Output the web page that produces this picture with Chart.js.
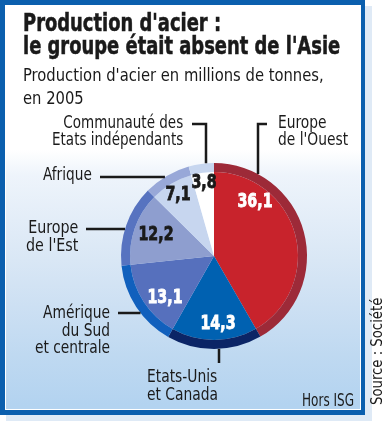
<!DOCTYPE html>
<html>
<head>
<meta charset="utf-8">
<script src="https://cdn.jsdelivr.net/npm/chart.js@4/dist/chart.umd.min.js"></script>
<style>
  html, body { margin: 0; padding: 0; background: #fff; }
  #wrap { position: relative; width: 385px; height: 421px; overflow: hidden;
          font-family: "Liberation Sans Narrow", "DejaVu Sans Condensed", "Roboto Condensed", sans-serif;
          font-stretch: condensed; color: #1a1a1a; }
  #shadow { position: absolute; left: 6px; top: 6px; width: 366px; height: 415px; background: #dfeaf6; }
  #frame { position: absolute; left: 0; top: 0; width: 356px; height: 405px;
           border: 5px solid #0b5fae; border-right-width: 4px;
           box-shadow: inset 0 0 0 1px #fff;
           background: linear-gradient(to bottom, #fff 0px, #fff 145px, #eef4fb 170px, #e3edf8 215px,
                       #d9e7f5 255px, #cde0f3 300px, #bfd9f1 350px, #b3d3f0 400px); }
  canvas { position: absolute; left: 0; top: 0; }
  .t { position: absolute; white-space: nowrap; }
  .title { left: 23px; top: 12px; font-size: 24px; line-height: 23px; font-weight: bold;
           -webkit-text-stroke: 0.5px #1a1a1a; }
  .sub { left: 23px; top: 63px; font-size: 18px; line-height: 23px; }
  .lab { font-size: 18px; line-height: 17px; }
  .r { text-align: right; }
  #source { position: absolute; left: 371px; top: 405px; transform-origin: 0 0;
            font-size: 15px; line-height: 13px; white-space: nowrap; }
</style>
</head>
<body>
<div id="wrap">
  <div id="shadow"></div>
  <div id="frame"></div>
  <canvas id="chart" width="385" height="421"></canvas>
  <div class="t title" data-w="317">Production d'acier :<br>le groupe était absent de l'Asie</div>
  <div class="t sub" data-w="301">Production d'acier en millions de tonnes,<br>en 2005</div>
  <div class="t lab r" data-w="131" style="right:202px; top:113px;">Communauté des<br>Etats indépendants</div>
  <div class="t lab" data-w="70" style="left:278px; top:113px;">Europe<br>de l'Ouest</div>
  <div class="t lab r" data-w="49" style="right:293px; top:165px;">Afrique</div>
  <div class="t lab r" data-w="52" style="right:307px; top:218px; line-height:18px;">Europe<br>de l'Est</div>
  <div class="t lab r" data-w="75" style="right:275px; top:303px; line-height:17.5px;">Amérique<br>du Sud<br>et centrale</div>
  <div class="t lab" data-w="71" style="left:147px; top:367px; line-height:18px;">Etats-Unis<br>et Canada</div>
  <div class="t lab r" data-w="52" style="right:31px; top:392px; font-size:17px;">Hors ISG</div>
  <div id="source" data-w="107">Source : Société</div>
</div>
<script>
// Production d'acier 2005, millions de tonnes
const categories = ["Europe de l'Ouest", "Etats-Unis et Canada", "Amérique du Sud et centrale",
                    "Europe de l'Est", "Afrique", "Communauté des Etats indépendants"];
const production = [36.1, 14.3, 13.1, 12.2, 7.1, 3.8];

const innerColors = ['#c8232c', '#0061b1', '#5670bd', '#8e9ecf', '#c7d6ef', '#ffffff'];
const ringColors  = ['#9d2a38', '#0b2566', '#1160bd', '#5773c0', '#98a8d8', '#c7d6ef'];
const valueColors = ['#fff', '#fff', '#fff', '#1a1a1a', '#1a1a1a', '#1a1a1a'];
// value label offsets from the pie centre
const valueOffsets = [[41, -54], [4, 68], [-49, 42], [-58, -21], [-36, -61], [-10, -73]];
// leader lines: start points, then run to the pie edge ('h' = horizontal, 'v' = vertical)
const leaders = [
  { pts: [[192, 124], [206, 124]], dir: 'v', side: -1 },
  { pts: [[267, 124], [258, 124]], dir: 'v', side: -1 },
  { pts: [[100, 177]], dir: 'h', side: -1 },
  { pts: [[86, 229]], dir: 'h', side: -1 },
  { pts: [[118, 313]], dir: 'h', side: -1 },
  { pts: [[219, 363]], dir: 'v', side: 1 }
];

const fmt = v => v.toFixed(1).replace('.', ',');

// squeeze the html text to the reference widths
document.querySelectorAll('[data-w]').forEach(el => {
  const s = +el.dataset.w / el.offsetWidth;
  if (el.id === 'source') {
    el.style.transform = `rotate(-90deg) scaleX(${s})`;
  } else {
    el.style.transformOrigin = el.classList.contains('r') ? 'right top' : 'left top';
    el.style.transform = `scaleX(${s})`;
  }
});

const annotate = {
  id: 'annotate',
  afterDatasetsDraw(chart) {
    const ctx = chart.ctx;
    const outer = chart.getDatasetMeta(0).data[0];
    const cx = outer.x, cy = outer.y, r = outer.outerRadius;
    ctx.save();
    // leader lines
    ctx.strokeStyle = '#1a1a1a';
    ctx.lineWidth = 2.5;
    leaders.forEach(l => {
      const last = l.pts[l.pts.length - 1];
      let end;
      if (l.dir === 'h') end = [cx + l.side * Math.sqrt(r * r - (last[1] - cy) ** 2), last[1]];
      else end = [last[0], cy + l.side * Math.sqrt(r * r - (last[0] - cx) ** 2)];
      ctx.beginPath();
      ctx.moveTo(l.pts[0][0], l.pts[0][1]);
      l.pts.slice(1).forEach(p => ctx.lineTo(p[0], p[1]));
      ctx.lineTo(end[0], end[1]);
      ctx.stroke();
    });
    // values
    ctx.font = 'bold 19px "Liberation Sans Narrow", "DejaVu Sans Condensed", sans-serif';
    ctx.textAlign = 'center';
    ctx.textBaseline = 'middle';
    ctx.lineWidth = 0.8;
    const sx = 35 / ctx.measureText('36,1').width;
    chart.getDatasetMeta(1).data.forEach((arc, i) => {
      ctx.save();
      ctx.translate(arc.x + valueOffsets[i][0], arc.y + valueOffsets[i][1]);
      ctx.scale(sx, 1);
      ctx.fillStyle = valueColors[i];
      ctx.strokeStyle = valueColors[i];
      ctx.fillText(fmt(production[i]), 0, 0);
      ctx.strokeText(fmt(production[i]), 0, 0);
      ctx.restore();
    });
    ctx.restore();
  }
};

new Chart(document.getElementById('chart'), {
  type: 'pie',
  data: {
    labels: categories,
    datasets: [
      { data: production, backgroundColor: ringColors, borderWidth: 0, weight: 1 },
      { data: production, backgroundColor: innerColors, borderWidth: 0, weight: 9.3 }
    ]
  },
  options: {
    responsive: false,
    animation: false,
    layout: { padding: { left: 121, right: 78, top: 162, bottom: 71 } },
    plugins: { legend: { display: false }, tooltip: { enabled: false } }
  },
  plugins: [annotate]
});
</script>
</body>
</html>
